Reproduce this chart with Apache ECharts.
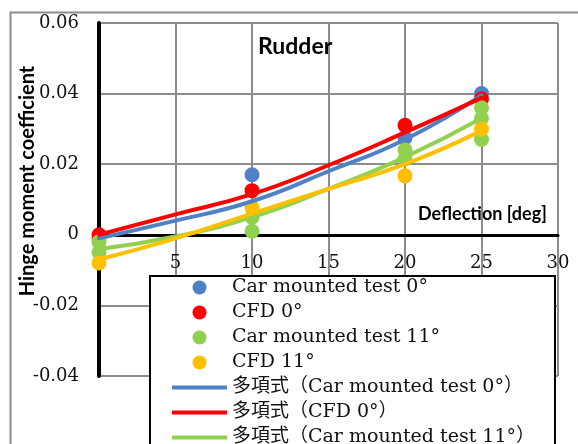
<!DOCTYPE html>
<html>
<head>
<meta charset="utf-8">
<script src="https://cdn.jsdelivr.net/npm/echarts@6/dist/echarts.min.js"></script>
<style>html,body{margin:0;padding:0;background:#fff}#c{width:578px;height:444px}</style>
</head>
<body>
<div id="c"></div>
<script>
// Measured points: [deflection, coefficient]
const carTest0 = [[0,-0.001],[10,0.017],[20,0.0275],[25,0.040]];
const cfd0 = [[0,0.0],[10,0.0125],[20,0.031],[25,0.0385]];
const carTest11 = [[0,-0.002],[0,-0.005],[10,0.005],[10,0.001],[20,0.024],[20,0.0215],[25,0.036],[25,0.033],[25,0.027]];
const cfd11 = [[0,-0.008],[10,0.0077],[20,0.0167],[25,0.030]];
// Polynomial trend lines
const trendX = [0,5,10,15,20,25];
const trendCar0 = [-0.001,0.004,0.0095,0.018,0.027,0.0395];
const trendCfd0 = [0.0,0.0058,0.0115,0.0197,0.029,0.0388];
const trendCar11 = [-0.004,-0.0005,0.005,0.013,0.022,0.033];
const trendCfd11 = [-0.007,-0.001,0.006,0.013,0.020,0.0295];
const yTicks = [-0.04,-0.02,0,0.02,0.04,0.06];
const xTicks = [0,5,10,15,20,25,30];

const names = ['Car mounted test 0°','CFD 0°','Car mounted test 11°','CFD 11°',
  '多項式（Car mounted test 0°）','多項式（CFD 0°）','多項式（Car mounted test 11°）','多項式（CFD 11°）'];
const colBlue='#4f81c7', colRed='#ff0000', colGreen='#92d050', colOrange='#ffc000';
const pair = (ys) => trendX.map((x,i)=>[x, ys[i]]);

const chart = echarts.init(document.getElementById('c'));
const serif = "'DejaVu Serif', 'Noto Sans CJK JP', serif";
const lineIcon = 'path://M0,0 H55 V4 H0 Z';
function scatter(name, data, color){
  return {name, type:'scatter', data, symbol:'circle', symbolSize:15,
    itemStyle:{color, opacity:1}, z:2};
}
function trend(name, ys, color){
  return {name, type:'line', data:pair(ys), smooth:true, symbol:'none', showSymbol:false,
    lineStyle:{color, width:4, cap:'round'}, itemStyle:{color}, z:3};
}
const GRID_BOTTOM = 68, H = 444;
chart.setOption({
  animation:false,
  backgroundColor:'#fff',
  grid:{left:99, right:20, top:23, bottom:GRID_BOTTOM},
  xAxis:{type:'value', min:0, max:30, interval:5, z:1,
    axisLine:{show:true, onZero:false, lineStyle:{color:'#000', width:3}},
    axisTick:{show:false},
    axisLabel:{fontFamily:serif, fontSize:18, color:'#111', margin:20},
    splitLine:{show:true, lineStyle:{color:'#8c8c8c', width:2}}},
  yAxis:{type:'value', min:-0.04, max:0.06, interval:0.02, z:1,
    axisLine:{show:true, onZero:false, lineStyle:{color:'#000', width:4}},
    axisTick:{show:false},
    axisLabel:{fontFamily:serif, fontSize:18, color:'#111', margin:20,
      formatter:(v)=>{const r=Math.round(v*100)/100; return r===0?'0':r.toFixed(2);}},
    splitLine:{show:true, lineStyle:{color:'#8c8c8c', width:2}}},
  legend:{orient:'vertical', left:150, top:276, width:385, height:260,
    backgroundColor:'#fff', borderColor:'#000', borderWidth:2,
    padding:[2,20,2,22], itemGap:6, itemWidth:55, itemHeight:14,
    textStyle:{fontFamily:serif, fontSize:19, color:'#111'},
    data:names.map((n,i)=> i<4 ? {name:n, icon:'circle'} : {name:n, icon:lineIcon})},
  graphic:[
    {type:'rect', left:8, top:10, shape:{width:620, height:500}, silent:true,
     style:{fill:'none', stroke:'#8c8c8c', lineWidth:2}, z:-10},
    {type:'text', left:258, top:35, z:10,
     style:{text:'Rudder', font:"bold 23px Lato", fill:'#000'}},
    {type:'text', left:418, top:205, z:10,
     style:{text:'Deflection [deg]', font:"bold 18px Lato", fill:'#000'}},
    {type:'text', x:28, y:181, rotation:Math.PI/2, z:10,
     style:{text:'Hinge moment coefficient', font:"bold 20px Lato", fill:'#000',
       align:'center', verticalAlign:'middle'}}
  ],
  series:[
    Object.assign(scatter(names[0], carTest0, colBlue), {
      markLine:{silent:true, symbol:'none', label:{show:false}, z:1,
        lineStyle:{color:'#000', width:3, type:'solid'}, data:[{yAxis:0}]}}),
    scatter(names[1], cfd0, colRed),
    scatter(names[2], carTest11, colGreen),
    scatter(names[3], cfd11, colOrange),
    trend(names[4], trendCar0, colBlue),
    trend(names[5], trendCfd0, colRed),
    trend(names[6], trendCar11, colGreen),
    trend(names[7], trendCfd11, colOrange)
  ]
});
// Move the x axis (line + labels) to y = 0 using the library's own scale.
const zeroPx = chart.convertToPixel({yAxisIndex:0}, 0);
chart.setOption({xAxis:{offset: -((H - GRID_BOTTOM) - zeroPx)}});
</script>
</body>
</html>
